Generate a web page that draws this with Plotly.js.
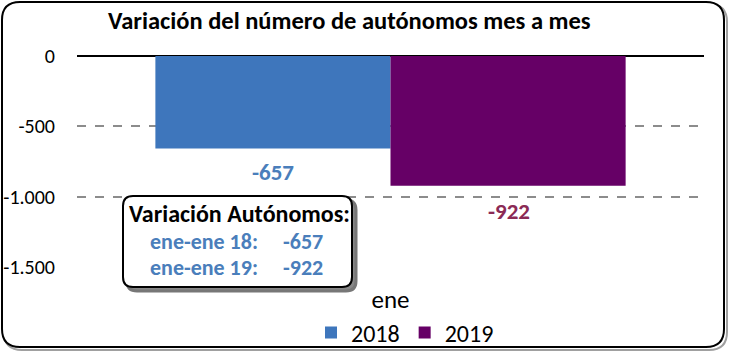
<!DOCTYPE html>
<html>
<head>
<meta charset="utf-8">
<script src="https://cdn.plot.ly/plotly-3.0.1.min.js"></script>
<style>html,body{margin:0;padding:0;background:#fff;}#chart{width:729px;height:353px;}</style>
</head>
<body>
<div id="chart"></div>
<script>
const categories = ['ene'];
const seriesNames = ['2018', '2019'];
const values2018 = [-657];
const values2019 = [-922];
const yTickVals = [0, -500, -1000, -1500];
const yTickText = ['0', '-500', '-1.000', '-1.500'];
const boxTitle = 'Variación Autónomos:';
const boxLines = ['ene-ene 18:', 'ene-ene 19:'];
const titleText = 'Variación del número de autónomos mes a mes';

const W = 729, H = 353;
const M = {l: 77, r: 25, t: 56, b: 86, autoexpand: false};
const PW = W - M.l - M.r, PH = H - M.t - M.b;
const px = x => (x - M.l) / PW;
const py = y => (H - M.b - y) / PH;
function roundRect(x0, y0, x1, y1, r) {
  const X0 = px(x0), X1 = px(x1), Y0 = py(y0), Y1 = py(y1);
  const rx = r / PW, ry = r / PH;
  return `M ${X0 + rx} ${Y0} L ${X1 - rx} ${Y0} Q ${X1} ${Y0} ${X1} ${Y0 - ry} ` +
         `L ${X1} ${Y1 + ry} Q ${X1} ${Y1} ${X1 - rx} ${Y1} L ${X0 + rx} ${Y1} ` +
         `Q ${X0} ${Y1} ${X0} ${Y1 + ry} L ${X0} ${Y0 - ry} Q ${X0} ${Y0} ${X0 + rx} ${Y0} Z`;
}

const font = 'Carlito, Lato, sans-serif';
const blueTxt = '#4a7ebb';
const purpleTxt = '#8b2a55';

const traces = [
  {type: 'bar', name: seriesNames[0], x: categories, y: values2018,
   marker: {color: '#3e76bc'}, hoverinfo: 'skip'},
  {type: 'bar', name: seriesNames[1], x: categories, y: values2019,
   marker: {color: '#660066'}, hoverinfo: 'skip'}
];

const fmt = v => String(v);
const paperText = (x, y, txt, size, color) => ({
  x: px(x), y: py(y), xref: 'paper', yref: 'paper', xanchor: 'center', yanchor: 'middle',
  showarrow: false, text: '<b>' + txt + '</b>', font: {family: font, size: size, color: color}
});
const annotations = [
  {x: categories[0], y: values2018[0], xref: 'x', yref: 'y', xshift: -118, yshift: -24,
   xanchor: 'center', yanchor: 'middle',
   text: '<b>' + fmt(values2018[0]) + '</b>', showarrow: false,
   font: {family: font, size: 23, color: blueTxt}},
  {x: categories[0], y: values2019[0], xref: 'x', yref: 'y', xshift: 118, yshift: -25,
   xanchor: 'center', yanchor: 'middle',
   text: '<b>' + fmt(values2019[0]) + '</b>', showarrow: false,
   font: {family: font, size: 23, color: purpleTxt}},
  paperText(239, 213, boxTitle, 24, '#000'),
  paperText(204, 241, boxLines[0], 22, blueTxt),
  paperText(303, 241, fmt(values2018[0]), 22, blueTxt),
  paperText(204, 267, boxLines[1], 22, blueTxt),
  paperText(303, 267, fmt(values2019[0]), 22, blueTxt)
];

const shapes = [
  {type: 'path', xref: 'paper', yref: 'paper', path: roundRect(4, 4, 727, 350, 18),
   line: {color: '#a0a0a0', width: 2}, layer: 'below'},
  {type: 'path', xref: 'paper', yref: 'paper', path: roundRect(2, 2, 724, 347, 18),
   line: {color: '#000', width: 2}, fillcolor: '#fff', layer: 'below'},
  {type: 'path', xref: 'paper', yref: 'paper', path: roundRect(127, 200, 356, 291, 10),
   line: {color: '#777', width: 3}, fillcolor: '#888', layer: 'above'},
  {type: 'path', xref: 'paper', yref: 'paper', path: roundRect(123, 196, 352, 287, 10),
   line: {color: '#000', width: 2}, fillcolor: '#fff', layer: 'above'}
];

const layout = {
  width: W, height: H,
  margin: M,
  paper_bgcolor: 'rgba(0,0,0,0)', plot_bgcolor: 'rgba(0,0,0,0)',
  title: {text: '<b>' + titleText + '</b>', x: px(108), xref: 'paper', xanchor: 'left',
          y: 1 - 20 / H, yanchor: 'middle',
          font: {family: font, size: 24.5, color: '#000'}},
  barmode: 'group', bargap: 0.25, bargroupgap: 0,
  showlegend: true,
  legend: {orientation: 'h', x: px(405), xanchor: 'center', y: py(333), yanchor: 'middle',
           font: {family: font, size: 24, color: '#000'},
           bgcolor: 'rgba(0,0,0,0)'},
  xaxis: {type: 'category', showgrid: false, showline: false, zeroline: false,
          ticks: 'outside', ticklen: 10, tickcolor: 'rgba(0,0,0,0)', automargin: false,
          tickfont: {family: font, size: 25, color: '#000'}},
  yaxis: {range: [-1500, 0], tickvals: yTickVals, ticktext: yTickText, automargin: false,
          showgrid: true, gridcolor: '#8c8c8c', gridwidth: 2, griddash: 'dash',
          zeroline: true, zerolinecolor: '#000', zerolinewidth: 2,
          showline: false, ticks: 'outside', ticklen: 17, tickcolor: 'rgba(0,0,0,0)',
          tickfont: {family: font, size: 20, color: '#000'}},
  annotations: annotations,
  shapes: shapes
};

Plotly.newPlot('chart', traces, layout, {displayModeBar: false, staticPlot: true});
</script>
</body>
</html>
